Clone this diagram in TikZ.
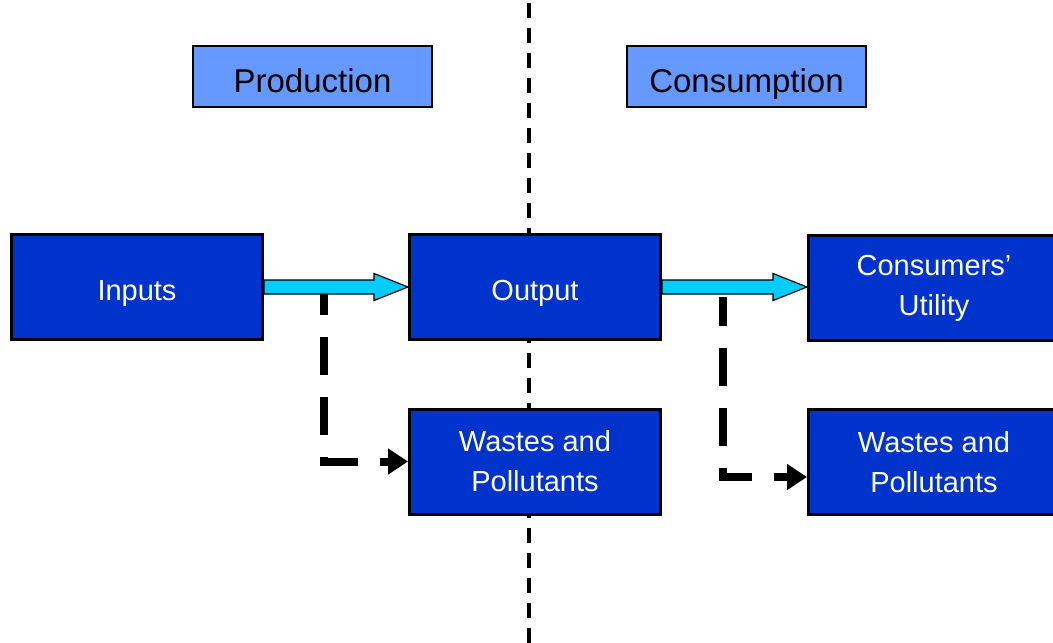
\documentclass[tikz,border=0pt]{standalone}
\usepackage{fontspec}
\setmainfont{Liberation Sans}
\usetikzlibrary{arrows.meta,calc}
\definecolor{lightbox}{RGB}{102,153,255}
\definecolor{darkbox}{RGB}{0,51,204}
\definecolor{cyanarrow}{RGB}{0,204,255}
\tikzset{
  headbox/.style={draw=black,line width=1.5pt,fill=lightbox,minimum width=239pt,minimum height=61pt,inner sep=0pt,font=\fontsize{33}{40}\selectfont,text=black,text height=31pt,text depth=0pt},
  bluebox/.style={draw=black,line width=3pt,fill=darkbox,minimum width=251pt,minimum height=105pt,inner sep=0pt,align=center,font=\fontsize{29}{40}\selectfont,text=white},
  oneline/.style={text height=26pt,text depth=0pt},
  divider/.style={line width=4.5pt,dash pattern=on 15pt off 10pt,dash phase=22pt},
  dasharrow/.style={line width=8pt,dash pattern=on 38pt off 22pt,-{Triangle[length=20pt,width=25pt]}},
  fatarrow/.style={fill=cyanarrow,draw=black,line width=1.2pt,line join=miter}
}
\newcommand\fatarrowbetween[2]{%
  \filldraw[fatarrow] let \p1=(#1.east), \p2=(#2.west) in
    (\x1,\y1+7pt) -- (\x2-34pt,\y1+7pt) -- (\x2-34pt,\y1+13.5pt) -- (\x2,\y1)
    -- (\x2-34pt,\y1-13.5pt) -- (\x2-34pt,\y1-7pt) -- (\x1,\y1-7pt) -- cycle;}
\begin{document}
\begin{tikzpicture}[x=1pt,y=-1pt]
\useasboundingbox (0,0) rectangle (1053,643);
\clip (0,0) rectangle (1053,643);
\coordinate (divtop) at (529,0);
\coordinate (divbot) at (529,643);
\draw[divider] (divtop) -- (divbot);
\node[headbox] (prod) at (312.5,76.5) {Production};
\node[headbox] (cons) at (746.5,76.5) {Consumption};
\node[bluebox,oneline] (inputs) at (137,287) {Inputs};
\node[bluebox,oneline] (output) at (535,287) {Output};
\node[bluebox] (utility) at (934,288) {Consumers’\\Utility};
\node[bluebox] (waste1) at (535,461.5) {Wastes and\\Pollutants};
\node[bluebox] (waste2) at (934,462) {Wastes and\\Pollutants};
\coordinate (d1) at (324,293);
\coordinate (d2) at (723,297);
\draw[dasharrow,dash phase=16pt] (d1) |- (waste1.west);
\draw[dasharrow,dash phase=9pt] (d2) |- ($(waste2.west)+(0,15)$);
\fatarrowbetween{inputs}{output}
\fatarrowbetween{output}{utility}
\end{tikzpicture}
\end{document}
